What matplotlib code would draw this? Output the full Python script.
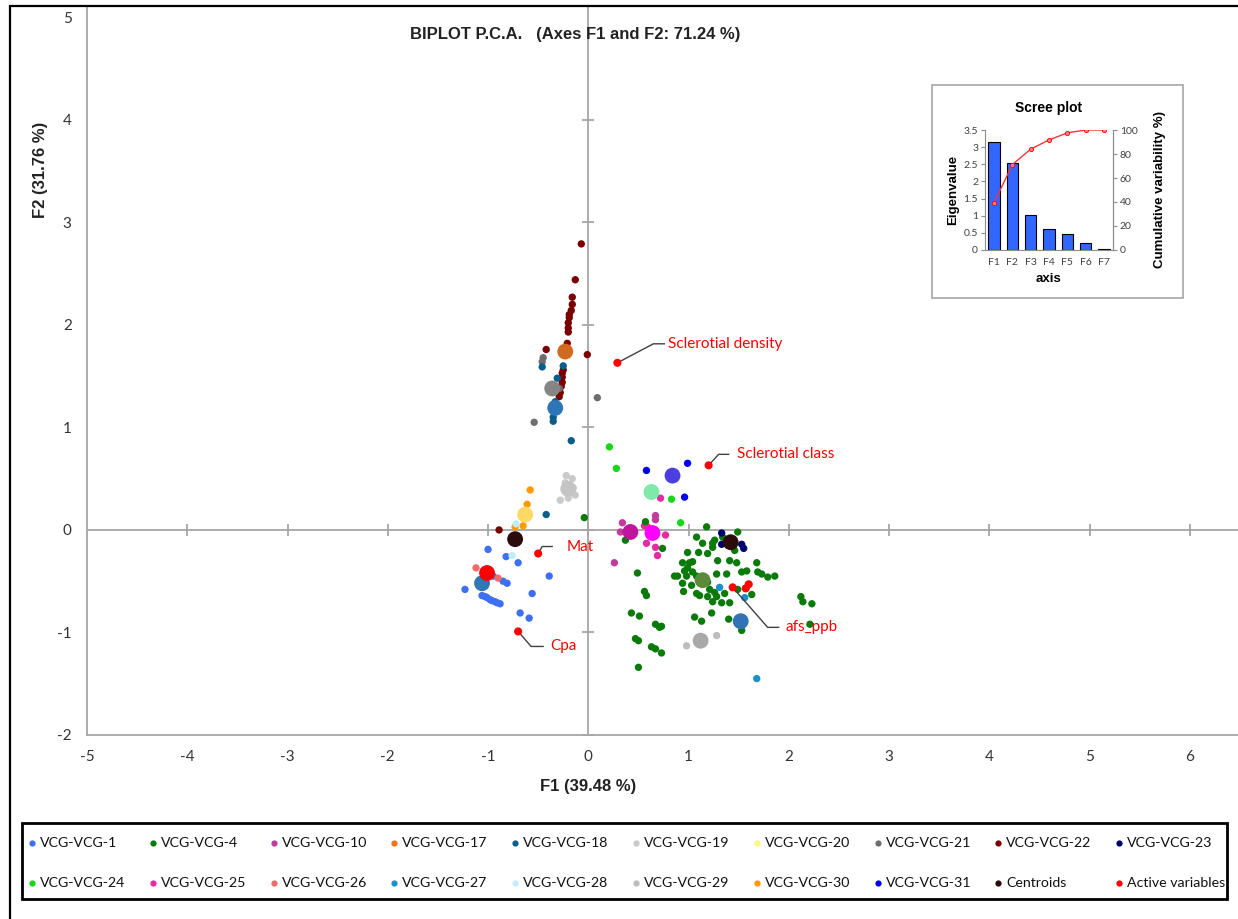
import matplotlib
matplotlib.use("Agg")
import matplotlib.pyplot as plt
from matplotlib.patches import Rectangle
from matplotlib.transforms import ScaledTranslation

# ---- observations per VCG group (F1, F2) ----
vcg1_x = [-1.00, -0.82, -0.70, -0.39, -0.95, -0.85, -0.81, -1.23, -1.06, -1.03, -1.01, -0.98,
          -0.96, -0.93, -0.91, -0.88, -0.56, -0.68, -0.59]
vcg1_y = [-0.19, -0.26, -0.32, -0.45, -0.45, -0.50, -0.52, -0.58, -0.64, -0.65, -0.66, -0.68,
          -0.69, -0.70, -0.71, -0.72, -0.62, -0.81, -0.86]
vcg4_x = [1.18, 1.08, 1.14, 1.24, 1.26, 1.34, 1.49, 0.74, 0.99, 1.10, 1.19, 1.24, 1.46, 1.04,
          1.01, 0.94, 1.29, 1.41, 1.48, 1.68, 0.99, 1.04, 0.96, 0.86, 0.89, 0.98, 1.08, 1.28,
          1.38, 1.53, 1.58, 1.69, 1.73, 1.79, 1.86, 0.94, 1.03, 1.19, 1.21, 1.26, 0.95, 1.08,
          1.11, 1.19, 1.28, 1.36, 1.49, 1.63, 1.24, 1.33, 1.41, 1.23, 1.06, 1.13, 1.40, 1.53,
          2.12, 2.14, 2.23, 2.21, 0.73, 0.73, 0.49, 0.56, 0.58, 0.43, 0.51, 0.67, 0.71, 0.47,
          0.50, 0.63, 0.67, 0.50, -0.04, 0.37, 0.57]
vcg4_y = [0.03, -0.07, -0.13, -0.13, -0.10, -0.07, -0.02, -0.18, -0.22, -0.22, -0.23, -0.17,
          -0.20, -0.31, -0.32, -0.32, -0.30, -0.30, -0.32, -0.32, -0.37, -0.41, -0.40, -0.45,
          -0.45, -0.45, -0.45, -0.43, -0.43, -0.41, -0.40, -0.41, -0.43, -0.46, -0.45, -0.52,
          -0.54, -0.51, -0.58, -0.61, -0.60, -0.62, -0.64, -0.65, -0.65, -0.62, -0.58, -0.63,
          -0.70, -0.71, -0.71, -0.81, -0.85, -0.89, -0.87, -0.98, -0.65, -0.70, -0.72, -0.92,
          -0.94, -1.20, -0.42, -0.60, -0.64, -0.81, -0.84, -0.92, -0.95, -1.06, -1.08, -1.14,
          -1.16, -1.34, 0.12, -0.10, 0.08]
vcg10_x = [0.34, 0.32, 0.67, 0.67, 0.26]
vcg10_y = [0.07, -0.02, 0.14, 0.10, -0.32]
vcg18_x = [-0.46, -0.25, -0.31, -0.33, -0.35, -0.35, -0.17, -0.42]
vcg18_y = [1.59, 1.60, 1.48, 1.25, 1.10, 1.06, 0.87, 0.15]
vcg19_x = [-0.22, -0.16, -0.15, -0.28, -0.20, -0.13, -0.23]
vcg19_y = [0.53, 0.50, 0.41, 0.29, 0.31, 0.34, 0.46]
vcg21_x = [-0.45, -0.46, -0.54, 0.09, -0.29]
vcg21_y = [1.68, 1.64, 1.05, 1.29, 1.38]
vcg22_x = [-0.07, -0.13, -0.16, -0.16, -0.17, -0.19, -0.19, -0.20, -0.20, -0.20, -0.21, -0.42,
           -0.01, -0.25, -0.26, -0.26, -0.26, -0.27, -0.28, -0.29, -0.89]
vcg22_y = [2.79, 2.44, 2.27, 2.20, 2.14, 2.10, 2.07, 2.02, 1.97, 1.93, 1.82, 1.76, 1.71, 1.56,
           1.53, 1.49, 1.44, 1.40, 1.34, 1.30, 0.00]
vcg23_x = [1.33, 1.33, 1.53, 1.55]
vcg23_y = [-0.03, -0.14, -0.14, -0.18]
vcg24_x = [0.21, 0.28, 0.83, 0.92]
vcg24_y = [0.81, 0.60, 0.30, 0.07]
vcg25_x = [0.72, 0.56, 0.59, 0.77, 0.58, 0.67, 0.69]
vcg25_y = [0.31, 0.04, 0.03, -0.05, -0.13, -0.17, -0.25]
vcg26_x = [-1.12, -0.90]
vcg26_y = [-0.37, -0.47]
vcg27_x = [1.31, 1.56, 1.68]
vcg27_y = [-0.56, -0.66, -1.45]
vcg28_x = [-0.76, -0.72]
vcg28_y = [-0.25, 0.06]
vcg29_x = [1.28, 0.98]
vcg29_y = [-1.03, -1.13]
vcg30_x = [-0.58, -0.61, -0.65, -0.73]
vcg30_y = [0.39, 0.25, 0.04, 0.03]
vcg31_x = [0.58, 0.99, 0.96]
vcg31_y = [0.58, 0.65, 0.32]

# ---- group centroids ----
centroid_groups = ["VCG-17", "VCG-21", "VCG-18", "VCG-19", "VCG-30", "VCG-22", "VCG-23",
                   "VCG-24", "VCG-31", "VCG-10", "VCG-25", "VCG-4", "VCG-27", "VCG-29",
                   "VCG-1", "VCG-26"]
centroid_x = [-0.23, -0.36, -0.33, -0.20, -0.63, -0.73, 1.42, 0.63, 0.84, 0.42, 0.64, 1.14,
              1.52, 1.12, -1.06, -1.01]
centroid_y = [1.74, 1.38, 1.19, 0.40, 0.15, -0.09, -0.12, 0.37, 0.53, -0.02, -0.03, -0.49,
              -0.89, -1.08, -0.52, -0.42]

# ---- active variables ----
var_names = ["Sclerotial density", "Sclerotial class", "Mat", "Cpa", "afs_ppb", "", ""]
var_x = [0.29, 1.20, -0.50, -0.70, 1.44, 1.57, 1.60]
var_y = [1.63, 0.63, -0.23, -0.99, -0.56, -0.57, -0.53]

# ---- scree plot ----
axes_names = ["F1", "F2", "F3", "F4", "F5", "F6", "F7"]
eigenvalues = [3.16, 2.54, 1.03, 0.61, 0.47, 0.21, 0.03]
cumulative = [39.5, 71.2, 84.1, 91.7, 97.6, 100.0, 100.0]

legend_names = ["VCG-VCG-1", "VCG-VCG-4", "VCG-VCG-10", "VCG-VCG-17", "VCG-VCG-18",
                "VCG-VCG-19", "VCG-VCG-20", "VCG-VCG-21", "VCG-VCG-22", "VCG-VCG-23",
                "VCG-VCG-24", "VCG-VCG-25", "VCG-VCG-26", "VCG-VCG-27", "VCG-VCG-28",
                "VCG-VCG-29", "VCG-VCG-30", "VCG-VCG-31", "Centroids", "Active variables"]

# colours (styles)
group_color = {
    "VCG-1": "#3d6ff2", "VCG-4": "#0a7a0a", "VCG-10": "#c13a9c", "VCG-17": "#f47121",
    "VCG-18": "#0b5e8c", "VCG-19": "#c9c9c9", "VCG-20": "#fff582", "VCG-21": "#6e6e6e",
    "VCG-22": "#7a0000", "VCG-23": "#00006e", "VCG-24": "#19d619", "VCG-25": "#e62a9f",
    "VCG-26": "#f26b6b", "VCG-27": "#1a8fc9", "VCG-28": "#c4ecff", "VCG-29": "#bdbdbd",
    "VCG-30": "#ff9a00", "VCG-31": "#0000f0", "Centroids": "#2b0b0b",
    "Active variables": "#ff0000",
}
centroid_color = {
    "VCG-17": "#d2691e", "VCG-21": "#858585", "VCG-18": "#2e75b6", "VCG-19": "#c4c4c4",
    "VCG-30": "#ffd966", "VCG-22": "#2b0b0b", "VCG-23": "#2b0b0b", "VCG-24": "#80e8a8",
    "VCG-31": "#4b3fe0", "VCG-10": "#c0169e", "VCG-25": "#ff00ff", "VCG-4": "#5d8a3a",
    "VCG-27": "#3273b8", "VCG-29": "#a8a8a8", "VCG-1": "#2f78b5", "VCG-26": "#ff0000",
}

groups = [
    ("VCG-22", vcg22_x, vcg22_y), ("VCG-21", vcg21_x, vcg21_y), ("VCG-18", vcg18_x, vcg18_y),
    ("VCG-19", vcg19_x, vcg19_y), ("VCG-30", vcg30_x, vcg30_y), ("VCG-24", vcg24_x, vcg24_y),
    ("VCG-31", vcg31_x, vcg31_y), ("VCG-10", vcg10_x, vcg10_y), ("VCG-25", vcg25_x, vcg25_y),
    ("VCG-4", vcg4_x, vcg4_y), ("VCG-23", vcg23_x, vcg23_y), ("VCG-27", vcg27_x, vcg27_y),
    ("VCG-29", vcg29_x, vcg29_y), ("VCG-1", vcg1_x, vcg1_y), ("VCG-26", vcg26_x, vcg26_y),
    ("VCG-28", vcg28_x, vcg28_y),
]

W, H = 1238, 919
plt.rcParams["font.family"] = ["Lato", "DejaVu Sans"]
plt.rcParams["axes.unicode_minus"] = False
fig = plt.figure(figsize=(W / 100, H / 100), dpi=100)


def px_box(x0, y0, x1, y1):
    # pixel box (top-left origin) -> figure fraction [l, b, w, h]
    return [x0 / W, 1 - y1 / H, (x1 - x0) / W, (y1 - y0) / H]


axis_gray = "#a6a6a6"
ax = fig.add_axes(px_box(87, 6, 1238, 735))
ax.set_xlim(-5, 6.48)
ax.set_ylim(-2, 5.11)
for s in ["top", "right"]:
    ax.spines[s].set_visible(False)
for s in ["left", "bottom"]:
    ax.spines[s].set_color(axis_gray)
    ax.spines[s].set_linewidth(1.3)
ax.set_xticks(range(-5, 7))
ax.set_yticks(range(-2, 6))
ax.tick_params(length=0, labelsize=11, labelcolor="#333333", pad=11)

# zero lines with cross ticks
ax.axhline(0, color=axis_gray, lw=1.3, zorder=1)
ax.axvline(0, color=axis_gray, lw=1.3, zorder=1)
ax.plot(range(-4, 7), [0] * 11, ls="none", marker="|", ms=8, mew=1.3, color=axis_gray, zorder=1)
ax.plot([0] * 7, range(-2, 5), ls="none", marker="_", ms=8, mew=1.3, color=axis_gray, zorder=1)

for name, gx, gy in groups:
    ax.scatter(gx, gy, s=28, color=group_color[name], edgecolors="none", zorder=3)

ax.scatter(centroid_x, centroid_y, s=130, edgecolors="none", zorder=4,
           color=[centroid_color[g] for g in centroid_groups])
ax.scatter(var_x, var_y, s=34, color=group_color["Active variables"], edgecolors="none", zorder=5)

# leader lines: (elbow dx, elbow dy, end dx, text dx) in pixels
leaders = {
    "Sclerotial density": (36, 19, 47, 51),
    "Sclerotial class": (10, 11, 20, 28),
    "Mat": (4, 7, 14, 28),
    "Cpa": (13, -15, 25, 32),
    "afs_ppb": (35, -40, 46, 53),
}
inv = ax.transData.inverted()
for name, vx, vy in zip(var_names, var_x, var_y):
    if not name:
        continue
    ex, ey, hx, tx = leaders[name]
    pts = [(0, 0), (ex, ey), (hx, ey)]
    xs, ys = [], []
    for dx, dy in pts:
        t = ax.transData + ScaledTranslation(dx / 100, dy / 100, fig.dpi_scale_trans)
        qx, qy = inv.transform(t.transform((vx, vy)))
        xs.append(qx)
        ys.append(qy)
    ax.plot(xs, ys, color="#404040", lw=1.0, zorder=4)
    ttrans = ax.transData + ScaledTranslation(tx / 100, ey / 100, fig.dpi_scale_trans)
    ax.text(vx, vy, name, transform=ttrans, color="#ff0000", fontsize=11,
            ha="left", va="center", zorder=6)

fig.text(575 / W, 1 - 35 / H, "BIPLOT P.C.A.   (Axes F1 and F2: 71.24 %)", ha="center",
         va="center", fontsize=12, fontweight="bold", color="#222222", family="Liberation Sans")
fig.text(588 / W, 1 - 787 / H, "F1 (39.48 %)", ha="center", va="center", fontsize=12,
         fontweight="bold", color="#222222", family="Liberation Sans")
fig.text(40 / W, 1 - 170 / H, "F2 (31.76 %)", ha="center", va="center", rotation=90,
         fontsize=12, fontweight="bold", color="#222222", family="Liberation Sans")

# outer frame (left + top visible)
fig.patches.append(Rectangle((10 / W, -0.05), 1.2, 1 - 6 / H + 0.05, transform=fig.transFigure,
                             fill=False, edgecolor="black", lw=1.6, zorder=1))

# ---- scree plot inset ----
fig.patches.append(Rectangle((932 / W, 1 - 298 / H), (1183 - 932) / W, (298 - 85) / H,
                             transform=fig.transFigure, facecolor="white",
                             edgecolor="#a6a6a6", lw=1.2, zorder=2))
ax2 = fig.add_axes(px_box(985, 130, 1113, 250), zorder=3)
ax2.bar(range(len(axes_names)), eigenvalues, width=0.62, color="#3366ff",
        edgecolor="black", linewidth=0.8)
ax2.set_xlim(-0.5, 6.5)
ax2.set_ylim(0, 3.5)
ax2.set_yticks([0, 0.5, 1, 1.5, 2, 2.5, 3, 3.5])
ax2.set_yticklabels(["0", "0.5", "1", "1.5", "2", "2.5", "3", "3.5"])
ax2.set_xticks(range(len(axes_names)))
ax2.set_xticklabels(axes_names)
ax2.spines["top"].set_visible(False)
for s in ["left", "bottom", "right"]:
    ax2.spines[s].set_color("#8c8c8c")
    ax2.spines[s].set_linewidth(0.8)
ax2.tick_params(axis="y", length=3, width=0.8, color="#8c8c8c", labelsize=7.5,
                labelcolor="#404040", pad=2)
ax2.tick_params(axis="x", length=0, labelsize=7.5, labelcolor="#404040", pad=6)
ax2.set_ylabel("Eigenvalue", fontsize=9.5, fontweight="bold", family="Liberation Sans",
               labelpad=3)
ax2.set_xlabel("axis", fontsize=9.5, fontweight="bold", family="Liberation Sans", labelpad=4)
ax2.set_title("Scree plot", fontsize=10, fontweight="bold", family="Liberation Sans", pad=13)

ax3 = ax2.twinx()
ax3.set_zorder(4)
ax3.patch.set_visible(False)
ax3.plot(range(len(axes_names)), cumulative, color="#ff3333", lw=1.0, marker="o", ms=3,
         mfc="#ff8080", mec="#ff0000", mew=0.6)
ax3.set_ylim(0, 100)
ax3.set_yticks([0, 20, 40, 60, 80, 100])
for s in ["top", "left", "bottom"]:
    ax3.spines[s].set_visible(False)
ax3.spines["right"].set_color("#8c8c8c")
ax3.spines["right"].set_linewidth(0.8)
ax3.tick_params(axis="y", length=3, width=0.8, color="#8c8c8c", labelsize=7.5,
                labelcolor="#404040", pad=2)
ax3.set_ylabel("Cumulative variability %)", fontsize=9.5, fontweight="bold",
               family="Liberation Sans", rotation=90, labelpad=12)

# ---- legend ----
fig.patches.append(Rectangle((22 / W, 1 - 899 / H), (1227 - 22) / W, (899 - 823) / H,
                             transform=fig.transFigure, fill=False, edgecolor="black",
                             lw=2.0, zorder=5))
leg_keys = ["VCG-" + n.split("-")[-1] for n in legend_names[:18]] + legend_names[18:]
for i, (label, key) in enumerate(zip(legend_names, leg_keys)):
    col, row = i % 10, i // 10
    mx = 32 + col * 120.8
    my = 843 + row * 40
    fig.lines.append(plt.Line2D([mx / W], [1 - my / H], transform=fig.transFigure, ls="none",
                                marker="o", ms=4.5, mec="none", color=group_color[key]))
    fig.text((mx + 8) / W, 1 - my / H, label, ha="left", va="center", fontsize=10.2,
             color="#111111")

fig.savefig("out.png", dpi=100)
